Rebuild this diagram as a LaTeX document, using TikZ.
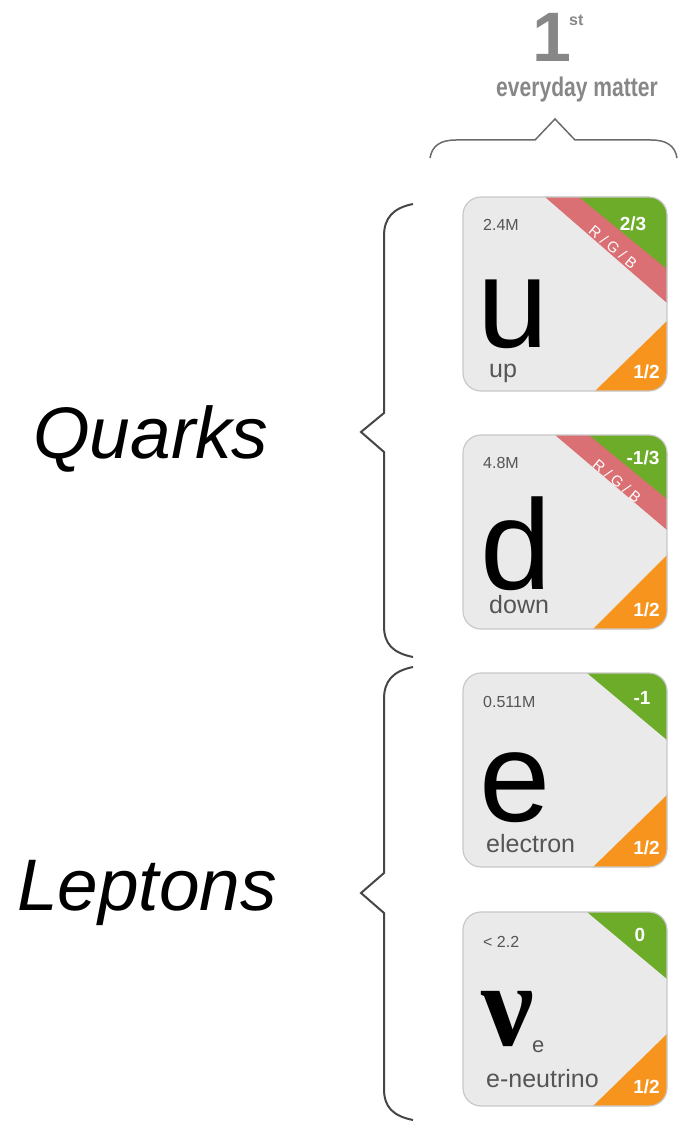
\documentclass[tikz,border=0pt]{standalone}
\usepackage{fontspec}
\setmainfont{Liberation Sans}
\newfontfamily\nufont{Liberation Serif}
\definecolor{cardfill}{RGB}{234,234,234}
\definecolor{cardborder}{RGB}{200,200,200}
\definecolor{qgreen}{RGB}{108,172,40}
\definecolor{qorange}{RGB}{247,148,29}
\definecolor{qred}{RGB}{218,112,116}
\definecolor{masstext}{RGB}{85,85,85}
\definecolor{headgrey}{RGB}{135,135,135}
\definecolor{bracegrey}{RGB}{70,70,70}
\newcommand\fs[1]{\fontsize{#1}{#1}\selectfont}
\tikzset{
  cardbox/.style={fill=cardfill, draw=none, rounded corners=18pt, minimum width=204pt, minimum height=194pt, inner sep=0pt, anchor=north west},
  cardedge/.style={draw=cardborder, line width=1.2pt, rounded corners=18pt},
  masslbl/.style={anchor=base west, inner sep=0pt, text=masstext, font=\fs{16}},
  biglbl/.style={anchor=base west, inner sep=0pt, text depth=0pt, text=black, font=\fs{128}},
  namelbl/.style={anchor=base west, inner sep=0pt, text=masstext, font=\fs{25}},
  spinlbl/.style={anchor=base east, inner sep=0pt, text=white, font=\bfseries\fs{19}},
  chargelbl/.style={anchor=base, inner sep=0pt, text=white, font=\bfseries\fs{19}},
  colorlbl/.style={inner sep=0pt, text=white, font=\fs{15}, rotate=-40},
  groupbrace/.style={draw=bracegrey, line width=2pt, line join=miter},
  topbrace/.style={draw=bracegrey!80, line width=1.5pt},
  grouplbl/.style={anchor=base west, inner sep=0pt, font=\itshape\fs{73}}
}
\begin{document}
\begin{tikzpicture}[x=1pt,y=-1pt]
\useasboundingbox (0,0) rectangle (678,1123);

% header
\node[anchor=base, inner sep=0pt, text=headgrey, font=\bfseries\fs{70}] (gen) at (552,62) {1};
\node[anchor=base west, inner sep=0pt, text=headgrey, font=\bfseries\fs{16}] (gensup) at (569,26) {st};
\node[anchor=base, inner sep=0pt, text=headgrey, font=\bfseries\fs{27}] (genname) at (577,97) {\scalebox{0.78}[1]{everyday matter}};
\coordinate (tbl) at (430,158);
\coordinate (tbr) at (677,158);
\draw[topbrace] (tbl) .. controls (432,146) and (440,140) .. (456,140) -- (535,140) -- (555,119) -- (575,140) -- (651,140) .. controls (667,140) and (675,146) .. (tbr);

% group labels
\node[grouplbl] (quarks) at (33,458) {Quarks};
\node[grouplbl] (leptons) at (17,910) {Leptons};

% quark brace
\coordinate (qtop) at (413,204);
\coordinate (qbot) at (413,657);
\coordinate (qtip) at (361,432);
\draw[groupbrace] (qtop) .. controls (393,208) and (384,218) .. (384,236) -- (384,413) -- (qtip) -- (384,452) -- (384,626) .. controls (384,644) and (393,653) .. (qbot);
% lepton brace
\coordinate (ltop) at (413,667);
\coordinate (lbot) at (413,1120);
\coordinate (ltip) at (361,893);
\draw[groupbrace] (ltop) .. controls (393,671) and (384,681) .. (384,699) -- (384,873) -- (ltip) -- (384,913) -- (384,1089) .. controls (384,1107) and (393,1116) .. (lbot);

% up quark
\begin{scope}[shift={(463,197)}]
  \node[cardbox] (cardu) at (0,0) {};
  \begin{scope}
    \clip[rounded corners=18pt] (0,0) rectangle (204,194);
    \fill[qred] (82,0) -- (204,0) -- (204,106) -- cycle;
    \fill[qgreen] (116,0) -- (204,0) -- (204,72) -- cycle;
    \fill[qorange] (204,124) -- (204,194) -- (132,194) -- cycle;
  \end{scope}
  \draw[cardedge] (0,0) rectangle (204,194);
  \node[masslbl] (massu) at (20,34) {2.4M};
  \node[biglbl] (symu) at (14,150) {u};
  \node[namelbl] (nameu) at (26,180) {up};
  \node[spinlbl] (spinu) at (197,181) {1/2};
  \node[chargelbl] (chu) at (170,33) {2/3};
  \node[colorlbl] (colu) at (150,50) {R / G / B};
\end{scope}

% down quark
\begin{scope}[shift={(463,435)}]
  \node[cardbox] (cardd) at (0,0) {};
  \begin{scope}
    \clip[rounded corners=18pt] (0,0) rectangle (204,194);
    \fill[qred] (92,0) -- (204,0) -- (204,95) -- cycle;
    \fill[qgreen] (126,0) -- (204,0) -- (204,64) -- cycle;
    \fill[qorange] (204,120) -- (204,194) -- (130,194) -- cycle;
  \end{scope}
  \draw[cardedge] (0,0) rectangle (204,194);
  \node[masslbl] (massd) at (20,33) {4.8M};
  \node[biglbl] (symd) at (17,154) {d};
  \node[namelbl] (named) at (26,178) {down};
  \node[spinlbl] (spind) at (197,181) {1/2};
  \node[chargelbl] (chd) at (180,29) {-1/3};
  \node[colorlbl] (cold) at (154,46) {R / G / B};
\end{scope}

% electron
\begin{scope}[shift={(463,673)}]
  \node[cardbox] (carde) at (0,0) {};
  \begin{scope}
    \clip[rounded corners=18pt] (0,0) rectangle (204,194);
    \fill[qgreen] (124,0) -- (204,0) -- (204,67) -- cycle;
    \fill[qorange] (204,122) -- (204,194) -- (130,194) -- cycle;
  \end{scope}
  \draw[cardedge] (0,0) rectangle (204,194);
  \node[masslbl] (masse) at (20,34) {0.511M};
  \node[biglbl] (syme) at (16,148) {e};
  \node[namelbl] (namee) at (23,179) {electron};
  \node[spinlbl] (spine) at (197,181) {1/2};
  \node[chargelbl] (che) at (179,31) {-1};
\end{scope}

% electron neutrino
\begin{scope}[shift={(463,912)}]
  \node[cardbox] (cardn) at (0,0) {};
  \begin{scope}
    \clip[rounded corners=18pt] (0,0) rectangle (204,194);
    \fill[qgreen] (124,0) -- (204,0) -- (204,67) -- cycle;
    \fill[qorange] (204,122) -- (204,194) -- (130,194) -- cycle;
  \end{scope}
  \draw[cardedge] (0,0) rectangle (204,194);
  \node[masslbl] (massn) at (20,35) {< 2.2};
  \node[anchor=base west, inner sep=0pt, text depth=0pt, font=\nufont\bfseries\fs{118}] (symn) at (18,133) {ν};
  \node[anchor=base west, inner sep=0pt, text=masstext, font=\fs{22}] (subn) at (69,140) {e};
  \node[namelbl] (namen) at (23,175) {e-neutrino};
  \node[spinlbl] (spinn) at (197,181) {1/2};
  \node[chargelbl] (chn) at (177,29) {0};
\end{scope}
\end{tikzpicture}
\end{document}
